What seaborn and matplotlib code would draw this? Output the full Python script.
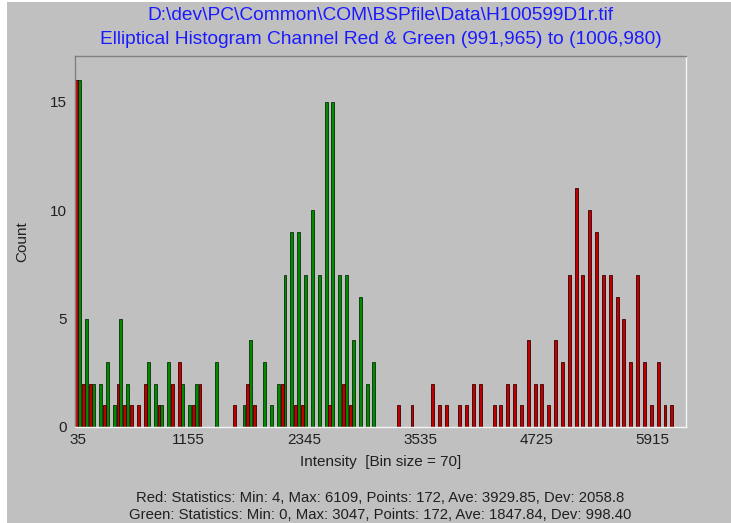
import numpy as np
import pandas as pd
import matplotlib
matplotlib.use("Agg")
import matplotlib.pyplot as plt
import matplotlib.colors as mcolors
from matplotlib.patches import Rectangle
import seaborn as sns

# Histogram counts per 70-wide intensity bin (bin 0 starts at intensity 0)
BIN_SIZE = 70
red_counts = [16, 2, 2, 0, 1, 0, 2, 1, 1, 1,
              2, 0, 1, 0, 2, 3, 0, 1, 2, 0,
              0, 0, 0, 1, 0, 2, 1, 0, 0, 0,
              2, 0, 1, 1, 0, 0, 0, 1, 0, 2,
              1, 0, 0, 0, 0, 0, 0, 1, 0, 1,
              0, 0, 2, 1, 1, 0, 1, 1, 2, 2,
              0, 1, 1, 2, 2, 1, 4, 2, 2, 1,
              4, 3, 7, 11, 7, 10, 9, 7, 7, 6,
              5, 3, 7, 3, 1, 3, 1, 1]
green_counts = [16, 5, 2, 2, 3, 1, 5, 2, 0, 0,
                3, 2, 1, 3, 0, 2, 1, 2, 0, 0,
                3, 0, 0, 0, 1, 4, 0, 3, 1, 2,
                7, 9, 9, 7, 10, 7, 15, 15, 7, 7,
                4, 6, 2, 3]
x_ticks = [35, 1155, 2345, 3535, 4725, 5915]
y_ticks = [0, 5, 10, 15]

title_lines = ["D:\\dev\\PC\\Common\\COM\\BSPfile\\Data\\H100599D1r.tif",
               "Elliptical Histogram Channel Red & Green (991,965) to (1006,980)"]
stats_lines = ["Red: Statistics: Min: 4, Max: 6109, Points: 172, Ave: 3929.85, Dev: 2058.8",
               "Green: Statistics: Min: 0, Max: 3047, Points: 172, Ave: 1847.84, Dev: 998.40"]

n_bins = len(red_counts)
centers = [BIN_SIZE * i + BIN_SIZE / 2 for i in range(n_bins)]
edges = [BIN_SIZE * i for i in range(n_bins + 1)]

green_full = green_counts + [0] * (n_bins - len(green_counts))
df = pd.DataFrame({
    "Intensity": centers * 2,
    "Count": red_counts + green_full,
    "Channel": ["Red"] * n_bins + ["Green"] * n_bins,
})

sns.set_theme(style="white")
plt.rcParams["font.family"] = ["Liberation Sans", "DejaVu Sans"]

BG = "#c0c0c0"
FACE = {"Red": "#c00000", "Green": "#008a00"}
EDGE = {"Red": "#3a0000", "Green": "#0a300a"}

W, H = 731, 523
fig = plt.figure(figsize=(W / 100, H / 100), dpi=100, facecolor="white")
# grey window panel with a thin white margin at the left and top
fig.patches.append(Rectangle((7 / W, 0), 1 - 7 / W, 1 - 2 / H,
                             transform=fig.transFigure, facecolor=BG,
                             edgecolor="none", zorder=-10))

ax = fig.add_axes([75 / W, 1 - 427 / H, 611 / W, 371 / H])
ax.set_facecolor(BG)

sns.histplot(data=df, x="Intensity", weights="Count", hue="Channel",
             hue_order=["Red", "Green"], bins=edges, multiple="dodge",
             shrink=0.86, alpha=1, legend=False, ax=ax,
             palette=FACE, linewidth=0.6)

# Give each bar an outline in a darker shade of its own channel colour
face_to_edge = {mcolors.to_hex(FACE[k]): EDGE[k] for k in FACE}
for patch in ax.patches:
    fc = mcolors.to_hex(patch.get_facecolor())
    if fc in face_to_edge:
        patch.set_edgecolor(face_to_edge[fc])

ax.set_xlim(0, 6255)
ax.set_ylim(0, 17.1)
ax.set_xticks(x_ticks)
ax.set_yticks(y_ticks)
ax.tick_params(axis="both", labelsize=11, colors="#202020", length=3, width=0.8,
               direction="out")
ax.tick_params(axis="x", length=2, pad=2)
ax.tick_params(axis="y", pad=3)
for side, col in [("top", "#808080"), ("left", "#808080"),
                  ("right", "#f4f4f4"), ("bottom", "#f4f4f4")]:
    ax.spines[side].set_visible(True)
    ax.spines[side].set_color(col)
    ax.spines[side].set_linewidth(1.0)

ax.set_xlabel("Intensity  [Bin size = 70]", fontsize=11, color="#202020", labelpad=6)
ax.set_ylabel("Count", fontsize=11, color="#202020", labelpad=15)

cx = (75 + 611 / 2) / W
fig.text(cx, 1 - 16 / H, title_lines[0], ha="center", va="center",
         fontsize=13.8, color="#1a1aff")
fig.text(cx, 1 - 39 / H, title_lines[1], ha="center", va="center",
         fontsize=13.8, color="#1a1aff")
fig.text(cx, 1 - 498 / H, stats_lines[0], ha="center", va="center",
         fontsize=10.7, color="#202020")
fig.text(cx, 1 - 515 / H, stats_lines[1], ha="center", va="center",
         fontsize=10.7, color="#202020")

fig.savefig("out.png", dpi=100, facecolor="white")
